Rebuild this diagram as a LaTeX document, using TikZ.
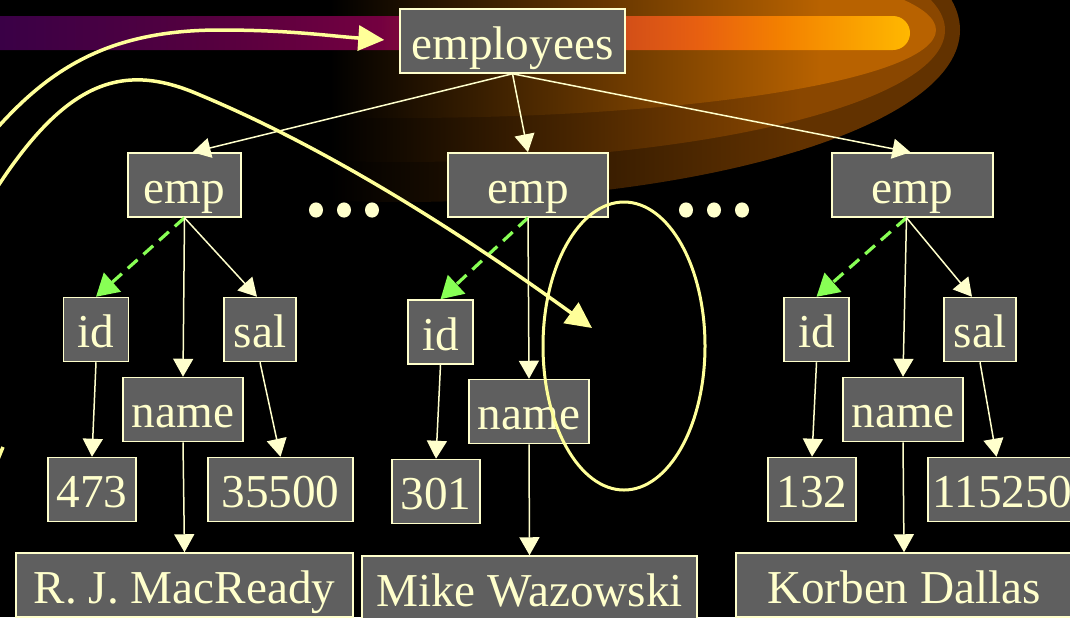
\documentclass[tikz,border=0pt]{standalone}
\usepackage{fontspec}
\setmainfont{Liberation Serif}
\usetikzlibrary{arrows.meta}
\definecolor{nodefill}{HTML}{5F5F5F}
\definecolor{ink}{HTML}{FFFFCC}
\definecolor{curvey}{HTML}{FFFF99}
\definecolor{dashg}{HTML}{88FF55}
\definecolor{glowA}{HTML}{623200}
\definecolor{glowB}{HTML}{8A4700}
\definecolor{glowC}{HTML}{B86200}
\definecolor{barA}{HTML}{3A0046}
\definecolor{barB}{HTML}{55003F}
\definecolor{barC}{HTML}{740040}
\definecolor{barD}{HTML}{C0401F}
\definecolor{barE}{HTML}{E86010}
\definecolor{barF}{HTML}{F38000}
\definecolor{barG}{HTML}{FFB800}
\pgfdeclarehorizontalshading{barshade}{100bp}{color(0bp)=(barA); color(26.1bp)=(barA); color(37.4bp)=(barB); color(46.5bp)=(barC); color(56.2bp)=(barD); color(63.7bp)=(barE); color(68bp)=(barF); color(75bp)=(barG); color(100bp)=(barG)}
\begin{document}
\begin{tikzpicture}[x=0.5pt,y=-0.5pt,
  box/.style={draw=ink, fill=nodefill, text=ink, line width=0.75pt, inner sep=0pt,
    minimum height=32pt, text height=18pt, text depth=0pt,
    font=\fontsize{23.6}{28}\selectfont},
  conn/.style={draw=ink, line width=0.75pt, -{Triangle[length=9pt,width=10pt]}},
  keyarr/.style={draw=dashg, line width=1.6pt, dash pattern=on 6.5pt off 4pt,
    -{Triangle[length=11pt,width=12.5pt]}},
  ycurve/.style={draw=curvey, line width=1.75pt},
  bigtip/.style={-{Triangle[length=13pt,width=12.5pt]}},
]
\useasboundingbox (0,0) rectangle (1070,617);
\fill[black] (0,0) rectangle (1070,617);
\clip (0,0) rectangle (1070,617);

% glow layers
\begin{scope}
  \clip (400,30) ellipse [x radius=560, y radius=172];
  \shade[left color=black, right color=glowA] (330,-60) rectangle (800,260);
  \fill[glowA] (799,-60) rectangle (1000,260);
\end{scope}
\begin{scope}
  \clip (400,30) ellipse [x radius=545, y radius=132];
  \shade[left color=black, right color=glowB] (330,-60) rectangle (800,260);
  \fill[glowB] (799,-60) rectangle (1000,260);
\end{scope}
\begin{scope}
  \clip (400,30) ellipse [x radius=536, y radius=88];
  \shade[left color=black, right color=glowC] (330,-60) rectangle (820,260);
  \fill[glowC] (819,-60) rectangle (1000,260);
\end{scope}

% bar
\shade[shading=barshade, rounded corners=8.5pt] (-20,16) rectangle (910,50);

% nodes
\node[box, minimum width=112.5pt] (emps) at (512.5,41) {employees};
\node[box, minimum width=56.5pt] (e1) at (184.5,185) {emp};
\node[box, minimum width=80pt] (e2) at (528,185) {emp};
\node[box, minimum width=80.5pt] (e3) at (912.5,185) {emp};

\node[box, minimum width=32.5pt] (id1) at (96,329.5) {id};
\node[box, minimum width=60pt] (nm1) at (183,409.5) {name};
\node[box, minimum width=36pt] (sl1) at (260,329.5) {sal};
\node[box, minimum width=44pt] (v1a) at (92,489.5) {473};
\node[box, minimum width=72.5pt] (v1c) at (280.5,489.5) {35500};
\node[box, minimum width=168.5pt] (v1b) at (184.5,585) {R. J. MacReady};

\node[box, minimum width=32.5pt] (id2) at (440.5,332) {id};
\node[box, minimum width=60pt] (nm2) at (529,411.5) {name};
\node[box, minimum width=44pt] (v2a) at (436,491.5) {301};
\node[box, minimum width=167.5pt] (v2b) at (529.5,588) {Mike Wazowski};

\node[box, minimum width=32.5pt] (id3) at (816.5,329.5) {id};
\node[box, minimum width=60pt] (nm3) at (903,409.5) {name};
\node[box, minimum width=36pt] (sl3) at (980,329.5) {sal};
\node[box, minimum width=44pt] (v3a) at (812,489.5) {132};
\node[box, minimum width=74.5pt] (v3c) at (1002.5,489.5) {115250};
\node[box, minimum width=168pt] (v3b) at (904,585) {Korben Dallas};

% connectors
\draw[conn] (emps.south) -- ([xshift=4pt]e1.north);
\draw[conn] (emps.south) -- (e2.north);
\draw[conn] (emps.south) -- ([xshift=-1pt]e3.north);

\draw[keyarr] (e1.south) -- (id1.north);
\draw[conn] (e1.south) -- (nm1.north);
\draw[conn] (e1.south) -- ([xshift=-1.5pt]sl1.north);
\draw[conn] (id1.south) -- (v1a.north);
\draw[conn] (nm1.south) -- (v1b.north);
\draw[conn] (sl1.south) -- (v1c.north);

\draw[keyarr] (e2.south) -- (id2.north);
\draw[conn] (e2.south) -- (nm2.north);
\draw[conn] (id2.south) -- (v2a.north);
\draw[conn] (nm2.south) -- (v2b.north);

\draw[keyarr] ([xshift=-3pt]e3.south) -- (id3.north);
\draw[conn] ([xshift=-3pt]e3.south) -- (nm3.north);
\draw[conn] ([xshift=-3pt]e3.south) -- ([xshift=-4pt]sl3.north);
\draw[conn] (id3.south) -- (v3a.north);
\draw[conn] (nm3.south) -- (v3b.north);
\draw[conn] (sl3.south) -- ([xshift=-3pt]v3c.north);

% dots
\foreach \dx in {316,344,372,686,714,742}
  \fill[ink] (\dx,210) ellipse [x radius=7, y radius=7.6];

% yellow curves and ring
\coordinate (c1s) at (-20,148);
\coordinate (c2s) at (-20,215);
\coordinate (t2) at (592,328);
\coordinate (k1) at (-4,464);
\coordinate (k2) at (3,447);
\draw[ycurve, bigtip, shorten >=7.5pt] (c1s) .. controls (40,75) and (100,30) .. (220,30)
  .. controls (290,30) and (330,36) .. (emps.west);
\draw[ycurve, bigtip] (c2s) .. controls (60,80) and (120,60) .. (200,95)
  .. controls (320,145) and (450,225) .. (t2);
\draw[ycurve] (k1) -- (k2);
\draw[curvey, line width=1.5pt] (624,346) ellipse [x radius=81, y radius=144];
\end{tikzpicture}
\end{document}
